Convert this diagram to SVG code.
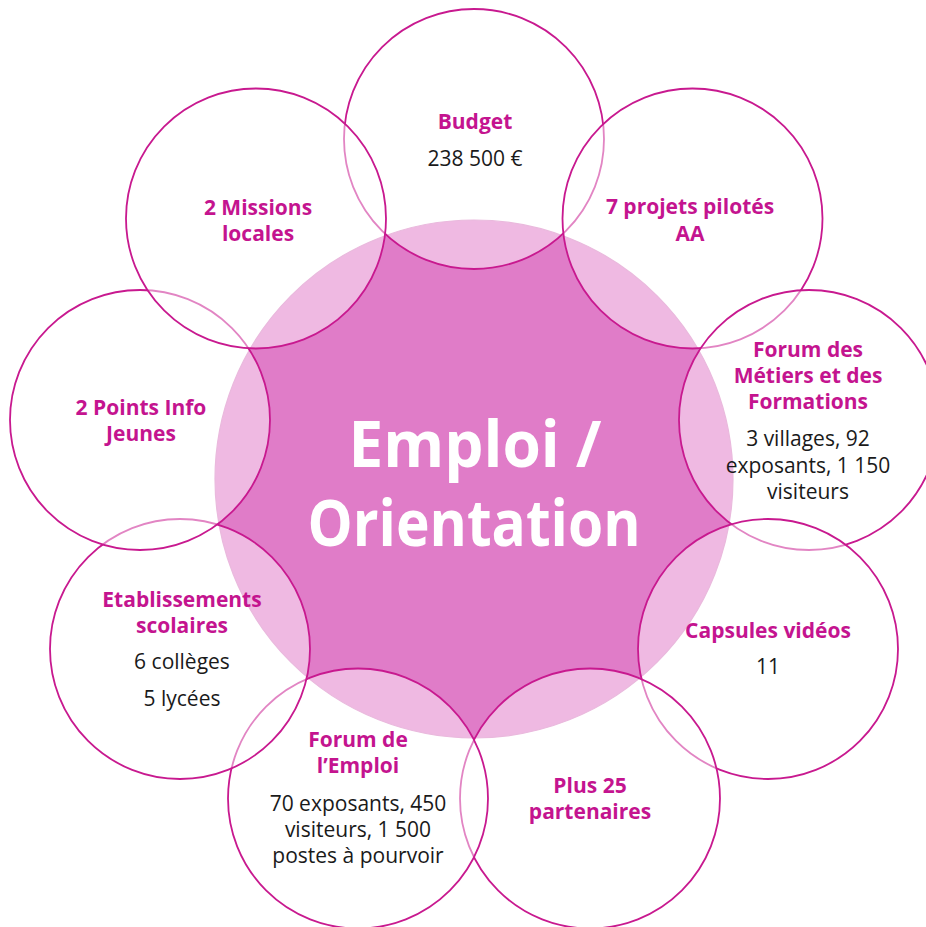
<svg xmlns="http://www.w3.org/2000/svg" width="926" height="927" viewBox="0 0 926 927">
<style>
.bg{fill:#ffffff}
.center{fill:#E07CC8;stroke:#D77BBF;stroke-width:1.2}
.outer{fill:#ffffff;fill-opacity:0.47;stroke:#C8198F;stroke-width:1.8}
.h{font-family:"Open Sans","Noto Sans",sans-serif;font-weight:bold;font-size:21px;fill:#C4148F;text-anchor:middle}
.b{font-family:"Open Sans","Noto Sans",sans-serif;font-size:21px;fill:#1a1a1a;text-anchor:middle}
.c{font-family:"Open Sans","Noto Sans",sans-serif;font-weight:bold;font-size:64px;fill:#ffffff;text-anchor:middle}
</style>
<rect class="bg" x="0" y="0" width="926" height="927"/>
<g id="center">
<circle class="center" cx="474" cy="479" r="259"/>
</g>
<g id="budget">
<circle class="outer" cx="474" cy="139" r="130"/>
<text class="h" x="475" y="129">Budget</text>
<text class="b" x="475" y="166">238 500 €</text>
</g>
<g id="projets">
<circle class="outer" cx="692.5" cy="218.5" r="130"/>
<text class="h" x="690" y="214">7 projets pilotés</text>
<text class="h" x="690" y="241">AA</text>
</g>
<g id="forum-metiers">
<circle class="outer" cx="809" cy="420" r="130"/>
<text class="h" x="808" y="357">Forum des</text>
<text class="h" x="808" y="383">Métiers et des</text>
<text class="h" x="808" y="409">Formations</text>
<text class="b" x="808" y="446">3 villages, 92</text>
<text class="b" x="808" y="473">exposants, 1 150</text>
<text class="b" x="808" y="499">visiteurs</text>
</g>
<g id="capsules">
<circle class="outer" cx="768" cy="649" r="130"/>
<text class="h" x="768" y="638">Capsules vidéos</text>
<text class="b" x="768" y="674">11</text>
</g>
<g id="partenaires">
<circle class="outer" cx="590" cy="798.5" r="130"/>
<text class="h" x="590" y="793">Plus 25</text>
<text class="h" x="590" y="819">partenaires</text>
</g>
<g id="forum-emploi">
<circle class="outer" cx="358" cy="798.5" r="130"/>
<text class="h" x="358" y="747">Forum de</text>
<text class="h" x="358" y="773">l’Emploi</text>
<text class="b" x="358" y="811">70 exposants, 450</text>
<text class="b" x="358" y="837">visiteurs, 1 500</text>
<text class="b" x="358" y="863">postes à pourvoir</text>
</g>
<g id="etablissements">
<circle class="outer" cx="180" cy="649" r="130"/>
<text class="h" x="182" y="607">Etablissements</text>
<text class="h" x="182" y="633">scolaires</text>
<text class="b" x="182" y="669">6 collèges</text>
<text class="b" x="182" y="706">5 lycées</text>
</g>
<g id="points-info">
<circle class="outer" cx="140" cy="420" r="130"/>
<text class="h" x="141" y="415">2 Points Info</text>
<text class="h" x="141" y="441">Jeunes</text>
</g>
<g id="missions">
<circle class="outer" cx="256" cy="218.5" r="130"/>
<text class="h" x="258" y="215">2 Missions</text>
<text class="h" x="258" y="241">locales</text>
</g>
<g id="title">
<text class="c" x="475" y="467" textLength="253" lengthAdjust="spacingAndGlyphs">Emploi /</text>
<text class="c" x="474" y="546" textLength="333" lengthAdjust="spacingAndGlyphs">Orientation</text>
</g>
<g id="connectors"/>
</svg>
